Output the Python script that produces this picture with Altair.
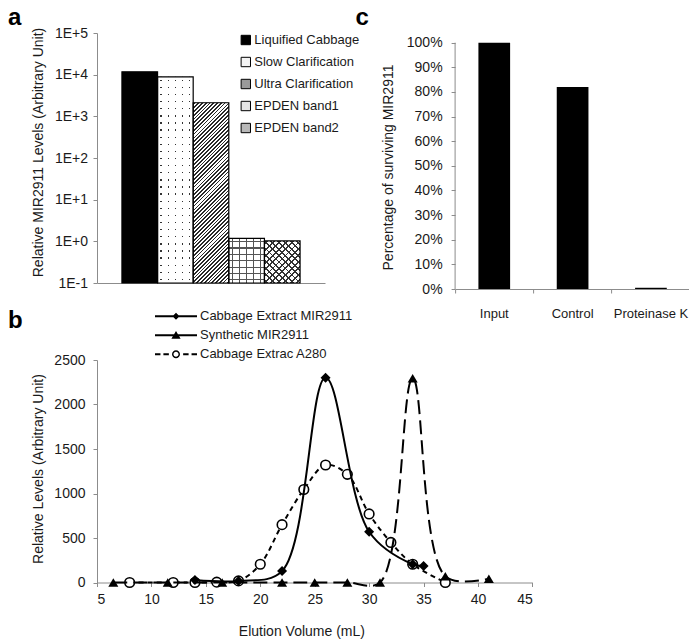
import math
import altair as alt
import pandas as pd

FONT = "Liberation Sans"
TXT = "#1a1a1a"
AX = "#8c8c8c"

# ---------------- data ----------------
# panel a
a_cats = ["Liquified Cabbage", "Slow Clarification", "Ultra Clarification", "EPDEN band1", "EPDEN band2"]
a_vals = [11750, 8900, 2120, 1.175, 1.02]
a_ticks = [0.1, 1, 10, 100, 1000, 10000, 100000]

# panel c
c_cats = ["Input", "Control", "Proteinase K"]
c_vals = [1.00, 0.82, 0.005]
c_ticks = [0.0, 0.1, 0.2, 0.3, 0.4, 0.5, 0.6, 0.7, 0.8, 0.9, 1.0]

# panel b
b_series = ["Cabbage Extract MIR2911", "Synthetic MIR2911", "Cabbage Extrac A280"]
cab_x = [14, 18, 22, 26, 30, 34, 35]
cab_y = [28, 18, 128, 2300, 570, 205, 185]
syn_x = [6.5, 11.5, 16.5, 22, 25, 28, 31, 34, 37, 41]
syn_y = [0, 0, 0, 0, 0, 0, 0, 2295, 70, 42]
a280_x = [8, 12, 14, 16, 18, 20, 22, 24, 26, 28, 30, 32, 34, 37]
a280_y = [0, 0, 0, 4, 18, 205, 650, 1045, 1320, 1215, 770, 450, 205, 0]
b_xticks = [5, 10, 15, 20, 25, 30, 35, 40, 45]
b_yticks = [0, 500, 1000, 1500, 2000, 2500]

# ---------------- sizes ----------------
A_W, A_H = 228, 250
C_W, C_H = 235, 256
C_TOP = 256 / 246.3
B_W, B_H = 435.4, 222.5
A_PAD_OUT = 0.7

a_df = pd.DataFrame({"cat": a_cats, "val": a_vals})
c_df = pd.DataFrame({"cat": c_cats, "val": c_vals})
b_df = pd.concat([
    pd.DataFrame({"series": b_series[0], "x": cab_x, "y": cab_y}),
    pd.DataFrame({"series": b_series[1], "x": syn_x, "y": syn_y}),
    pd.DataFrame({"series": b_series[2], "x": a280_x, "y": a280_y}),
], ignore_index=True)


# ---------------- pattern helpers (fills) ----------------
def stripe_stops(n, frac, dark, light):
    out = [{"offset": 0, "color": light}]
    for i in range(n):
        s0 = round((i + (1 - frac) / 2) / n, 5)
        s1 = round((i + (1 + frac) / 2) / n, 5)
        out += [{"offset": s0, "color": light}, {"offset": s0, "color": dark},
                {"offset": s1, "color": dark}, {"offset": s1, "color": light}]
    out.append({"offset": 1, "color": light})
    return out


def lin(coords, stops):
    g = {"gradient": "linear"}
    g.update(coords)
    g["stops"] = stops
    return g


def diag(w, h, pitch, up=True):
    L = w + h
    k = L / (w * w + h * h)
    n = max(1, round(L / (pitch * math.sqrt(2))))
    if up:
        c = {"x1": 0, "y1": 0, "x2": round(w * k, 5), "y2": round(h * k, 5)}
    else:
        c = {"x1": 0, "y1": 1, "x2": round(w * k, 5), "y2": round(1 - h * k, 5)}
    return c, n


step = A_W / (len(a_cats) + 2 * A_PAD_OUT)


def bar_h(v):
    return (math.log10(v) - math.log10(a_ticks[0])) / 6 * A_H


CLEAR = "rgba(255,255,255,0)"
VERT = {"x1": 0, "y1": 0, "x2": 1, "y2": 0}
HORZ = {"x1": 0, "y1": 0, "x2": 0, "y2": 1}

fills = []
# dotted
h1 = bar_h(a_vals[1])
fills.append((a_cats[1], lin(VERT, stripe_stops(round(step / 7), 0.18, "#333", "white"))))
fills.append((a_cats[1], lin(HORZ, stripe_stops(round(h1 / 7), 0.18, CLEAR, "white"))))
# diagonal hatch
c2, n2 = diag(step, bar_h(a_vals[2]), 2.7, True)
fills.append((a_cats[2], lin(c2, stripe_stops(n2, 0.45, "#2a2a2a", "white"))))
# grid
h3 = bar_h(a_vals[3])
nv3, nh3 = round(step / 6.5), round(h3 / 6.5)
fills.append((a_cats[3], lin(VERT, stripe_stops(nv3, 0.16, "#555", "white"))))
fills.append((a_cats[3], lin(HORZ, stripe_stops(nh3, 0.16 * (step / nv3) / (h3 / nh3), "#555", CLEAR))))
# cross hatch
h4 = bar_h(a_vals[4])
c4a, n4 = diag(step, h4, 4.4, True)
c4b, _ = diag(step, h4, 4.4, False)
fills.append((a_cats[4], lin(c4a, stripe_stops(n4, 0.3, "#333", "white"))))
fills.append((a_cats[4], lin(c4b, stripe_stops(n4, 0.3, "#333", CLEAR))))

# ---------------- panel a ----------------
ax_x = alt.X("cat:N", sort=a_cats,
             scale=alt.Scale(paddingInner=0, paddingOuter=A_PAD_OUT),
             axis=alt.Axis(labels=False, ticks=False, title=None))
ax_y = alt.Y("val:Q",
             scale=alt.Scale(type="log", domain=[a_ticks[0], a_ticks[-1]], nice=False),
             axis=alt.Axis(values=a_ticks,
                           labelExpr="'1E' + (datum.value < 1 ? '-' : '+') + format(abs(log(datum.value)/LN10), '.0f')",
                           labelPadding=5.5, title="Relative MIR2911 Levels (Arbitrary Unit)",
                           titleX=-51.3, titleY=119))
ax_y2 = alt.datum(a_ticks[0])

a_base = alt.Chart(a_df).mark_bar(strokeWidth=0).encode(
    x=ax_x, y=ax_y, y2=ax_y2,
    color=alt.Color("cat:N", sort=a_cats,
                    scale=alt.Scale(domain=a_cats, range=["#000000", "#f4f4f4", "#9a9a9a", "#e4e4e4", "#b8b8b8"]),
                    legend=alt.Legend(title=None, orient="none", legendX=142.3, legendY=-4,
                                      symbolType="square", symbolSize=88, symbolStrokeColor="black",
                                      symbolStrokeWidth=1, labelFontSize=13, labelColor=TXT,
                                      labelOffset=2, rowPadding=0, clipHeight=22, padding=0,
                                      labelLimit=300)))
a_layers = [a_base]
for cat, fill in fills:
    a_layers.append(alt.Chart(a_df).transform_filter(alt.datum.cat == cat)
                    .mark_bar(fill=fill, strokeWidth=0).encode(x=ax_x, y=ax_y, y2=ax_y2))
a_layers.append(alt.Chart(a_df).mark_bar(fillOpacity=0, stroke="black", strokeWidth=1.2)
                .encode(x=ax_x, y=ax_y, y2=ax_y2))

panel_a = alt.layer(*a_layers).properties(
    width=A_W, height=A_H,
    title=alt.TitleParams("a", dx=-89, dy=26.5, baseline="alphabetic"))

# ---------------- panel c ----------------
c_yaxis = alt.Axis(values=c_ticks, format=".0%", domain=False, labelPadding=9,
                   title="Percentage of surviving MIR2911", titleX=-59.5, titleY=134)
c_yscale = alt.Scale(domain=[0, C_TOP], nice=False)
c_rule = alt.Chart(pd.DataFrame({"val": [0.0], "top": [1.0]})).mark_rule(color=AX, strokeWidth=1).encode(
    x=alt.value(0), y=alt.Y("val:Q", scale=c_yscale, axis=c_yaxis), y2="top:Q")
c_bars = alt.Chart(c_df).mark_bar(color="black", size=31.7).encode(
    x=alt.X("cat:N", sort=c_cats, scale=alt.Scale(paddingInner=0, paddingOuter=0),
            axis=alt.Axis(title=None, bandPosition=0, labelPadding=14, labelAngle=0, labelFontSize=13)),
    y=alt.Y("val:Q", scale=c_yscale, axis=c_yaxis))
panel_c = alt.layer(c_rule, c_bars).properties(
    width=C_W, height=C_H,
    title=alt.TitleParams("c", dx=-99.5, dy=19.5, baseline="alphabetic"))

# ---------------- panel b ----------------
bx = alt.X("x:Q", scale=alt.Scale(domain=[b_xticks[0], b_xticks[-1]], nice=False),
           axis=alt.Axis(values=b_xticks, labelPadding=5.5, title="Elution Volume (mL)",
                         titleX=204.4, titleY=41.5))
by = alt.Y("y:Q", scale=alt.Scale(domain=[b_yticks[0], b_yticks[-1]], nice=False),
           axis=alt.Axis(values=b_yticks, format="d", labelPadding=8,
                         title="Relative Levels (Arbitrary Unit)", titleX=-51.6, titleY=108.5))


def sub(name):
    return alt.Chart(b_df).transform_filter(alt.datum.series == name)


l_a280 = sub(b_series[2]).mark_line(interpolate="catmull-rom", color="black", strokeWidth=2,
                                    strokeDash=[5, 4]).encode(x=bx, y=by)
p_a280 = sub(b_series[2]).mark_point(shape="circle", size=92, fill="white", stroke="black",
                                     strokeWidth=1.6, opacity=1).encode(x=bx, y=by)
l_syn = sub(b_series[1]).mark_line(interpolate="catmull-rom", color="black", strokeWidth=2,
                                   strokeDash=[14, 6]).encode(x=bx, y=by)
p_syn = sub(b_series[1]).mark_point(shape="triangle-up", size=100, filled=True, color="black",
                                    opacity=1).encode(x=bx, y=by)
l_cab = sub(b_series[0]).mark_line(interpolate="catmull-rom", color="black", strokeWidth=2).encode(x=bx, y=by)
p_cab = sub(b_series[0]).mark_point(shape="diamond", size=100, filled=True, color="black",
                                    opacity=1).encode(x=bx, y=by)


# legend glyphs: filled outlines only (line drawn as a thin bar), unit = 21 px
def seg(a, b, t=0.045):
    return f"M{a},{-t}H{b}V{t}H{a}Z"


leg_paths = [
    seg(-1, 1) + "M0,-0.17L0.17,0L0,0.17L-0.17,0Z",
    seg(-1, 1) + "M0,-0.2L0.22,0.17L-0.22,0.17Z",
    seg(-1, -0.74) + seg(-0.6, -0.34) + seg(0.34, 0.6) + seg(0.74, 1)
    + "M-0.19,0A0.19,0.19,0,1,0,0.19,0A0.19,0.19,0,1,0,-0.19,0Z"
    + "M-0.12,0A0.12,0.12,0,1,1,0.12,0A0.12,0.12,0,1,1,-0.12,0Z",
]
b_legend = alt.Legend(title=None, orient="none", legendX=58, legendY=274, padding=0,
                      symbolSize=1764, symbolFillColor="black", symbolStrokeColor="black",
                      symbolStrokeWidth=0, symbolOpacity=1, clipHeight=18.4, rowPadding=0,
                      labelOffset=3, labelFontSize=13, labelColor=TXT, labelLimit=300)
legend_layer = alt.Chart(b_df).mark_point(filled=True, fill="black", opacity=0).encode(
    x=bx, y=by,
    shape=alt.Shape("series:N", scale=alt.Scale(domain=b_series, range=leg_paths), legend=b_legend))

panel_b = alt.layer(l_a280, p_a280, l_syn, p_syn, l_cab, p_cab, legend_layer).properties(
    width=B_W, height=B_H,
    title=alt.TitleParams("b", dx=-89, dy=3, baseline="alphabetic"))

# ---------------- layout ----------------
chart = alt.ConcatChart(
    concat=[panel_a, panel_c, panel_b], columns=2, align="none", bounds="flush",
    spacing=alt.RowColnumber(row=71, column=454.5 - 97 - B_W),
).properties(
    autosize=alt.AutoSizeParams(type="none"),
    padding={"left": 89, "top": 25, "right": 592, "bottom": 606},
).configure(font=FONT).configure_axis(
    domainColor=AX, tickColor=AX, labelColor=TXT, titleColor=TXT, labelFontSize=14,
    titleFontSize=14, titleFontWeight="normal", grid=False, tickSize=4, domainWidth=1, tickWidth=1,
).configure_view(stroke=None).configure_title(
    fontSize=24, fontWeight="bold", color="black", anchor="start", frame="group", offset=0,
)

chart.save("out.html", embed_options={"renderer": "svg", "actions": False})
